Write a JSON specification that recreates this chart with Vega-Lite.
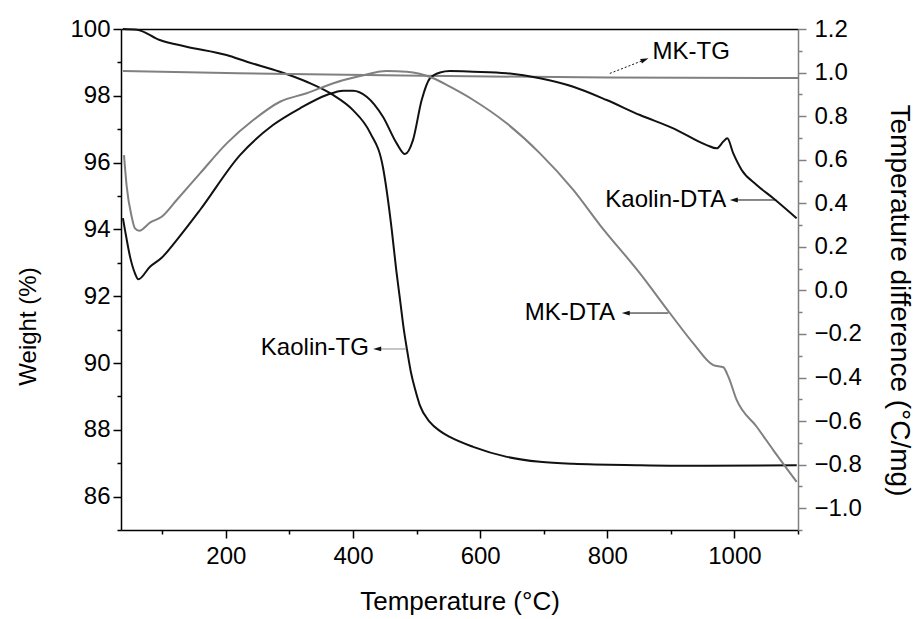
{
  "$schema": "https://vega.github.io/schema/vega-lite/v6.json",
  "width": 677,
  "height": 501,
  "autosize": {"type": "none"},
  "padding": {"left": 121, "top": 29, "right": 116, "bottom": 89},
  "background": "white",
  "config": {
    "view": {"stroke": null},
    "font": "Liberation Sans",
    "axis": {
      "grid": false,
      "labelFont": "Liberation Sans",
      "titleFont": "Liberation Sans",
      "labelFontSize": 24,
      "titleFontSize": 24,
      "titleFontWeight": "normal",
      "labelColor": "black",
      "titleColor": "black",
      "domainWidth": 1.5,
      "tickWidth": 1.5,
      "tickSize": 8
    }
  },
  "datasets": {
    "curves": [
      {"series": "Kaolin-TG", "T": 38, "v": 100.0},
      {"series": "Kaolin-TG", "T": 60, "v": 99.98},
      {"series": "Kaolin-TG", "T": 96, "v": 99.67},
      {"series": "Kaolin-TG", "T": 138, "v": 99.47},
      {"series": "Kaolin-TG", "T": 201, "v": 99.22},
      {"series": "Kaolin-TG", "T": 233, "v": 99.02},
      {"series": "Kaolin-TG", "T": 285, "v": 98.72},
      {"series": "Kaolin-TG", "T": 327, "v": 98.42},
      {"series": "Kaolin-TG", "T": 369, "v": 98.02},
      {"series": "Kaolin-TG", "T": 400, "v": 97.57},
      {"series": "Kaolin-TG", "T": 427, "v": 96.89},
      {"series": "Kaolin-TG", "T": 447, "v": 95.87},
      {"series": "Kaolin-TG", "T": 461, "v": 93.98},
      {"series": "Kaolin-TG", "T": 468, "v": 92.78},
      {"series": "Kaolin-TG", "T": 474, "v": 91.89},
      {"series": "Kaolin-TG", "T": 480, "v": 90.99},
      {"series": "Kaolin-TG", "T": 485, "v": 90.39},
      {"series": "Kaolin-TG", "T": 491, "v": 89.73},
      {"series": "Kaolin-TG", "T": 498, "v": 89.19},
      {"series": "Kaolin-TG", "T": 505, "v": 88.74},
      {"series": "Kaolin-TG", "T": 521, "v": 88.23},
      {"series": "Kaolin-TG", "T": 537, "v": 87.96},
      {"series": "Kaolin-TG", "T": 553, "v": 87.78},
      {"series": "Kaolin-TG", "T": 589, "v": 87.49},
      {"series": "Kaolin-TG", "T": 642, "v": 87.19},
      {"series": "Kaolin-TG", "T": 694, "v": 87.04},
      {"series": "Kaolin-TG", "T": 746, "v": 86.98},
      {"series": "Kaolin-TG", "T": 851, "v": 86.94},
      {"series": "Kaolin-TG", "T": 956, "v": 86.92},
      {"series": "Kaolin-TG", "T": 1098, "v": 86.94},
      {"series": "MK-TG", "T": 38, "v": 98.74},
      {"series": "MK-TG", "T": 160, "v": 98.7},
      {"series": "MK-TG", "T": 300, "v": 98.65},
      {"series": "MK-TG", "T": 550, "v": 98.59},
      {"series": "MK-TG", "T": 800, "v": 98.55},
      {"series": "MK-TG", "T": 1100, "v": 98.53},
      {"series": "Kaolin-DTA", "T": 38, "v": 0.332},
      {"series": "Kaolin-DTA", "T": 41.3, "v": 0.277},
      {"series": "Kaolin-DTA", "T": 49.2, "v": 0.155},
      {"series": "Kaolin-DTA", "T": 57, "v": 0.078},
      {"series": "Kaolin-DTA", "T": 62.2, "v": 0.051},
      {"series": "Kaolin-DTA", "T": 80.6, "v": 0.109},
      {"series": "Kaolin-DTA", "T": 99, "v": 0.15},
      {"series": "Kaolin-DTA", "T": 122.6, "v": 0.231},
      {"series": "Kaolin-DTA", "T": 159.3, "v": 0.369},
      {"series": "Kaolin-DTA", "T": 222.2, "v": 0.621},
      {"series": "Kaolin-DTA", "T": 274.1, "v": 0.759},
      {"series": "Kaolin-DTA", "T": 316.6, "v": 0.836},
      {"series": "Kaolin-DTA", "T": 358.6, "v": 0.897},
      {"series": "Kaolin-DTA", "T": 384.7, "v": 0.917},
      {"series": "Kaolin-DTA", "T": 400, "v": 0.917},
      {"series": "Kaolin-DTA", "T": 421.5, "v": 0.889},
      {"series": "Kaolin-DTA", "T": 447.1, "v": 0.797},
      {"series": "Kaolin-DTA", "T": 468.7, "v": 0.675},
      {"series": "Kaolin-DTA", "T": 481.7, "v": 0.626},
      {"series": "Kaolin-DTA", "T": 494.3, "v": 0.69},
      {"series": "Kaolin-DTA", "T": 508, "v": 0.874},
      {"series": "Kaolin-DTA", "T": 521.1, "v": 0.974},
      {"series": "Kaolin-DTA", "T": 536.8, "v": 1.0},
      {"series": "Kaolin-DTA", "T": 552.5, "v": 1.007},
      {"series": "Kaolin-DTA", "T": 589.2, "v": 1.004},
      {"series": "Kaolin-DTA", "T": 641.7, "v": 0.997},
      {"series": "Kaolin-DTA", "T": 694.1, "v": 0.974},
      {"series": "Kaolin-DTA", "T": 746.5, "v": 0.935},
      {"series": "Kaolin-DTA", "T": 799, "v": 0.874},
      {"series": "Kaolin-DTA", "T": 851.4, "v": 0.805},
      {"series": "Kaolin-DTA", "T": 903.8, "v": 0.744},
      {"series": "Kaolin-DTA", "T": 956.3, "v": 0.667},
      {"series": "Kaolin-DTA", "T": 972, "v": 0.652},
      {"series": "Kaolin-DTA", "T": 982.5, "v": 0.683},
      {"series": "Kaolin-DTA", "T": 988.7, "v": 0.698},
      {"series": "Kaolin-DTA", "T": 998.2, "v": 0.629},
      {"series": "Kaolin-DTA", "T": 1011.4, "v": 0.553},
      {"series": "Kaolin-DTA", "T": 1035, "v": 0.484},
      {"series": "Kaolin-DTA", "T": 1061.1, "v": 0.423},
      {"series": "Kaolin-DTA", "T": 1097.9, "v": 0.331},
      {"series": "MK-DTA", "T": 39.7, "v": 0.621},
      {"series": "MK-DTA", "T": 44, "v": 0.476},
      {"series": "MK-DTA", "T": 51.8, "v": 0.338},
      {"series": "MK-DTA", "T": 57, "v": 0.285},
      {"series": "MK-DTA", "T": 63.8, "v": 0.274},
      {"series": "MK-DTA", "T": 80.6, "v": 0.311},
      {"series": "MK-DTA", "T": 99, "v": 0.338},
      {"series": "MK-DTA", "T": 122.6, "v": 0.415},
      {"series": "MK-DTA", "T": 159.3, "v": 0.537},
      {"series": "MK-DTA", "T": 201.3, "v": 0.675},
      {"series": "MK-DTA", "T": 243.1, "v": 0.782},
      {"series": "MK-DTA", "T": 285.1, "v": 0.866},
      {"series": "MK-DTA", "T": 327.1, "v": 0.905},
      {"series": "MK-DTA", "T": 369, "v": 0.951},
      {"series": "MK-DTA", "T": 411, "v": 0.984},
      {"series": "MK-DTA", "T": 453, "v": 1.007},
      {"series": "MK-DTA", "T": 484.4, "v": 1.004},
      {"series": "MK-DTA", "T": 526.3, "v": 0.974},
      {"series": "MK-DTA", "T": 552.5, "v": 0.935},
      {"series": "MK-DTA", "T": 589.2, "v": 0.874},
      {"series": "MK-DTA", "T": 641.7, "v": 0.767},
      {"series": "MK-DTA", "T": 694.1, "v": 0.629},
      {"series": "MK-DTA", "T": 746.5, "v": 0.461},
      {"series": "MK-DTA", "T": 788.5, "v": 0.3},
      {"series": "MK-DTA", "T": 851.4, "v": 0.078},
      {"series": "MK-DTA", "T": 898.6, "v": -0.105},
      {"series": "MK-DTA", "T": 935.3, "v": -0.243},
      {"series": "MK-DTA", "T": 966.7, "v": -0.343},
      {"series": "MK-DTA", "T": 982.5, "v": -0.353},
      {"series": "MK-DTA", "T": 990.4, "v": -0.396},
      {"series": "MK-DTA", "T": 1003.5, "v": -0.503},
      {"series": "MK-DTA", "T": 1035, "v": -0.626},
      {"series": "MK-DTA", "T": 1061.1, "v": -0.733},
      {"series": "MK-DTA", "T": 1097.9, "v": -0.879}
    ],
    "notes": [
      {"label": "Kaolin-TG", "side": "L", "T": 340, "v": 90.45},
      {"label": "MK-TG", "side": "L", "T": 932, "v": 99.31},
      {"label": "Kaolin-DTA", "side": "R", "T": 892, "v": 0.415},
      {"label": "MK-DTA", "side": "R", "T": 741, "v": -0.104}
    ],
    "arrows": [
      {"name": "Kaolin-TG", "side": "L", "T": 438, "T2": 484, "v": 90.42, "v2": 90.42},
      {"name": "MK-TG", "side": "L", "T": 804, "T2": 859, "v": 98.67, "v2": 99.08},
      {"name": "Kaolin-DTA", "side": "R", "T": 999, "T2": 1066, "v": 0.415, "v2": 0.415},
      {"name": "MK-DTA", "side": "R", "T": 829, "T2": 896, "v": -0.104, "v2": -0.104}
    ],
    "heads": [
      {"name": "Kaolin-TG", "side": "L", "T": 438, "v": 90.42},
      {"name": "MK-TG", "side": "L", "T": 859, "v": 99.08},
      {"name": "Kaolin-DTA", "side": "R", "T": 999, "v": 0.415},
      {"name": "MK-DTA", "side": "R", "T": 829, "v": -0.104}
    ]
  },
  "layer": [
    {
      "data": {"name": "curves"},
      "transform": [{"filter": "test(/TG/, datum.series)"}],
      "mark": {"type": "line", "strokeWidth": 2, "interpolate": "monotone"},
      "encoding": {
        "x": {
          "field": "T", "type": "quantitative",
          "scale": {"domain": [35, 1100], "nice": false, "zero": false},
          "axis": {
            "orient": "bottom",
            "title": "Temperature (°C)",
            "values": [200, 400, 600, 800, 1000],
            "format": "d",
            "domainColor": "black",
            "tickColor": "black",
            "labelPadding": 6,
            "titleX": 338.5,
            "titleY": 71,
            "titleBaseline": "middle",
            "titleFontSize": 26
          }
        },
        "y": {
          "field": "v", "type": "quantitative",
          "scale": {"domain": [85, 100], "nice": false, "zero": false},
          "axis": {
            "orient": "left",
            "title": "Weight (%)",
            "values": [86, 88, 90, 92, 94, 96, 98, 100],
            "format": "d",
            "domainColor": "black",
            "tickColor": "black",
            "labelPadding": 3,
            "titleX": -93,
            "titleY": 297,
            "titleBaseline": "middle",
            "titleFontSize": 24
          }
        },
        "color": {
          "field": "series", "type": "nominal",
          "scale": {"domain": ["Kaolin-TG", "MK-TG", "Kaolin-DTA", "MK-DTA"], "range": ["#111111", "#808080", "#111111", "#808080"]},
          "legend": null
        }
      }
    },
    {
      "data": {"name": "curves"},
      "transform": [{"filter": "test(/DTA/, datum.series)"}],
      "mark": {"type": "line", "strokeWidth": 2, "interpolate": "monotone"},
      "encoding": {
        "x": {
          "field": "T", "type": "quantitative",
          "scale": {"domain": [35, 1100], "nice": false, "zero": false},
          "axis": {"orient": "top", "title": null, "labels": false, "ticks": false, "domainColor": "black"}
        },
        "y": {
          "field": "v", "type": "quantitative",
          "scale": {"domain": [-1.1, 1.2], "nice": false, "zero": false},
          "axis": {
            "orient": "right",
            "title": "Temperature difference (°C/mg)",
            "values": [-1.0, -0.8, -0.6, -0.4, -0.2, 0, 0.2, 0.4, 0.6, 0.8, 1.0, 1.2],
            "format": ".1f",
            "domainColor": "#808080",
            "tickColor": "#808080",
            "labelPadding": 8,
            "titleX": 100,
            "titleY": 271,
            "titleBaseline": "middle",
            "titleFontSize": 28
          }
        },
        "color": {
          "field": "series", "type": "nominal",
          "scale": {"domain": ["Kaolin-TG", "MK-TG", "Kaolin-DTA", "MK-DTA"], "range": ["#111111", "#808080", "#111111", "#808080"]},
          "legend": null
        }
      }
    },
    {
      "data": {"name": "notes"},
      "transform": [{"filter": "datum.side === 'L'"}],
      "mark": {"type": "text", "fontSize": 24, "align": "center", "baseline": "middle", "color": "black", "font": "Liberation Sans"},
      "encoding": {
        "x": {
          "field": "T", "type": "quantitative",
          "scale": {"domain": [35, 1100], "nice": false, "zero": false},
          "axis": {"orient": "bottom", "title": null, "labels": false, "domain": false, "tickSize": 4, "tickColor": "black", "values": [100, 300, 500, 700, 900, 1100]}
        },
        "y": {
          "field": "v", "type": "quantitative",
          "scale": {"domain": [85, 100], "nice": false, "zero": false},
          "axis": {"orient": "left", "title": null, "labels": false, "domain": false, "tickSize": 4, "tickColor": "black", "values": [85, 87, 89, 91, 93, 95, 97, 99]}
        },
        "text": {"field": "label"}
      }
    },
    {
      "data": {"name": "notes"},
      "transform": [{"filter": "datum.side === 'R'"}],
      "mark": {"type": "text", "fontSize": 24, "align": "center", "baseline": "middle", "color": "black", "font": "Liberation Sans"},
      "encoding": {
        "x": {"field": "T", "type": "quantitative", "scale": {"domain": [35, 1100], "nice": false, "zero": false}, "axis": null},
        "y": {
          "field": "v", "type": "quantitative",
          "scale": {"domain": [-1.1, 1.2], "nice": false, "zero": false},
          "axis": {"orient": "right", "title": null, "labels": false, "domain": false, "tickSize": 4, "tickColor": "#808080", "values": [-1.1, -0.9, -0.7, -0.5, -0.3, -0.1, 0.1, 0.3, 0.5, 0.7, 0.9, 1.1]}
        },
        "text": {"field": "label"}
      }
    },
    {
      "data": {"name": "arrows"},
      "transform": [{"filter": "datum.side === 'L'"}],
      "mark": {"type": "rule", "strokeWidth": 1},
      "encoding": {
        "x": {"field": "T", "type": "quantitative", "scale": {"domain": [35, 1100], "nice": false, "zero": false}, "axis": null},
        "x2": {"field": "T2"},
        "y": {"field": "v", "type": "quantitative", "scale": {"domain": [85, 100], "nice": false, "zero": false}, "axis": null},
        "y2": {"field": "v2"},
        "color": {"condition": {"test": "datum.name === 'Kaolin-TG'", "value": "#8a8a8a"}, "value": "#111111"},
        "strokeDash": {"condition": {"test": "datum.name === 'MK-TG'", "value": [2, 2]}, "value": [10, 0]}
      }
    },
    {
      "data": {"name": "arrows"},
      "transform": [{"filter": "datum.side === 'R'"}],
      "mark": {"type": "rule", "strokeWidth": 1, "color": "#111111"},
      "encoding": {
        "x": {"field": "T", "type": "quantitative", "scale": {"domain": [35, 1100], "nice": false, "zero": false}, "axis": null},
        "x2": {"field": "T2"},
        "y": {"field": "v", "type": "quantitative", "scale": {"domain": [-1.1, 1.2], "nice": false, "zero": false}, "axis": null},
        "y2": {"field": "v2"}
      }
    },
    {
      "data": {"name": "heads"},
      "transform": [{"filter": "datum.name === 'Kaolin-TG'"}],
      "mark": {"type": "point", "shape": "M-1,0L1,-0.6L1,0.6Z", "size": 64, "filled": true, "opacity": 1, "color": "#111111"},
      "encoding": {
        "x": {"field": "T", "type": "quantitative", "scale": {"domain": [35, 1100], "nice": false, "zero": false}, "axis": null},
        "y": {"field": "v", "type": "quantitative", "scale": {"domain": [85, 100], "nice": false, "zero": false}, "axis": null}
      }
    },
    {
      "data": {"name": "heads"},
      "transform": [{"filter": "datum.name === 'MK-TG'"}],
      "mark": {"type": "point", "shape": "M-1,0L1,-0.6L1,0.6Z", "size": 64, "filled": true, "opacity": 1, "color": "#111111", "angle": 158.5},
      "encoding": {
        "x": {"field": "T", "type": "quantitative", "scale": {"domain": [35, 1100], "nice": false, "zero": false}, "axis": null},
        "y": {"field": "v", "type": "quantitative", "scale": {"domain": [85, 100], "nice": false, "zero": false}, "axis": null}
      }
    },
    {
      "data": {"name": "heads"},
      "transform": [{"filter": "datum.side === 'R'"}],
      "mark": {"type": "point", "shape": "M-1,0L1,-0.6L1,0.6Z", "size": 64, "filled": true, "opacity": 1, "color": "#111111"},
      "encoding": {
        "x": {"field": "T", "type": "quantitative", "scale": {"domain": [35, 1100], "nice": false, "zero": false}, "axis": null},
        "y": {"field": "v", "type": "quantitative", "scale": {"domain": [-1.1, 1.2], "nice": false, "zero": false}, "axis": null}
      }
    }
  ],
  "resolve": {"scale": {"x": "independent", "y": "independent"}}
}
